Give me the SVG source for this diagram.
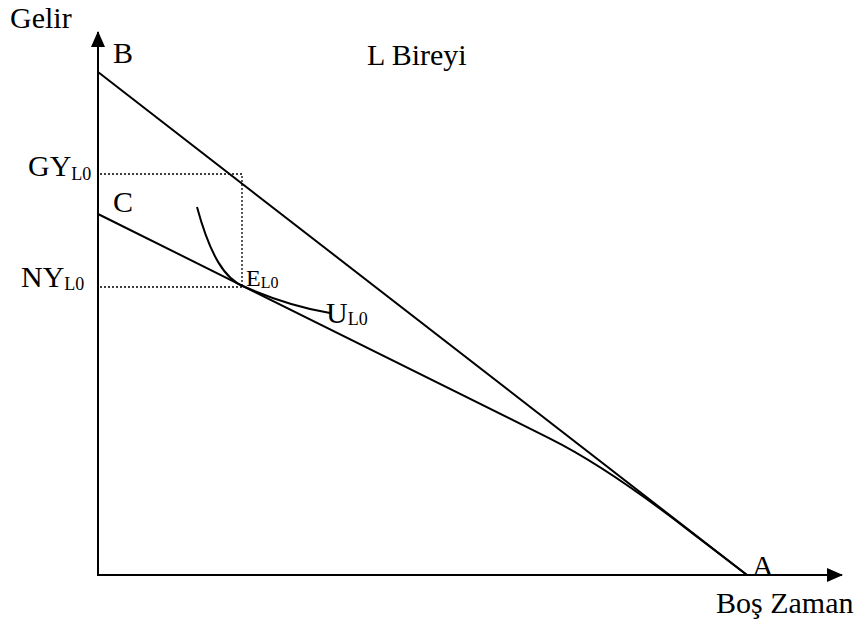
<svg xmlns="http://www.w3.org/2000/svg" width="864" height="626" viewBox="0 0 864 626">
<style>
  text { font-family: "Liberation Serif", "Times New Roman", Times, "DejaVu Serif", serif; font-size: 30px; fill: #000; }
  .sub { font-size: 18px; }
  .small { font-size: 24px; }
  .smallsub { font-size: 16px; }
  .ln { stroke: #000; stroke-width: 2; fill: none; }
  .dot { stroke: #000; stroke-width: 1.3; fill: none; stroke-dasharray: 2 2; }
</style>
<defs>
  <marker id="arrh" markerWidth="16" markerHeight="16" refX="15" refY="8" orient="auto" markerUnits="userSpaceOnUse" viewBox="0 0 16 16">
    <path d="M0,1 L16,8 L0,15 Z" fill="#000"/>
  </marker>
</defs>
<g id="axes">
  <line class="ln" x1="98" y1="576" x2="98" y2="32" marker-end="url(#arrh)"/>
  <line class="ln" x1="97" y1="575" x2="842" y2="575" marker-end="url(#arrh)"/>
</g>
<g id="connectors">
  <line class="ln" x1="98" y1="72" x2="747" y2="575"/>
  <path class="ln" d="M98,214 L550,438.6 Q607,467 690,531.4 L747,575"/>
  <path class="ln" d="M197,207 C210,255 225,280 245,287 C270,298 300,308 330,313"/>
  <polyline class="dot" points="100,174 242,174 242,287"/>
  <line class="dot" x1="100" y1="287" x2="242" y2="287"/>
</g>
<g id="labels">
  <text x="10" y="28">Gelir</text>
  <text x="113" y="63">B</text>
  <text x="367" y="65">L Bireyi</text>
  <text x="28" y="176">GY<tspan class="sub" dy="4">L0</tspan></text>
  <text x="113" y="212">C</text>
  <text x="21" y="287">NY<tspan class="sub" dy="3">L0</tspan></text>
  <text class="small" x="246" y="286">E<tspan class="smallsub" dy="2">L0</tspan></text>
  <text x="326" y="323">U<tspan class="sub" dy="2">L0</tspan></text>
  <text x="752" y="576">A</text>
  <text x="716" y="613">Boş Zaman</text>
</g>
</svg>
